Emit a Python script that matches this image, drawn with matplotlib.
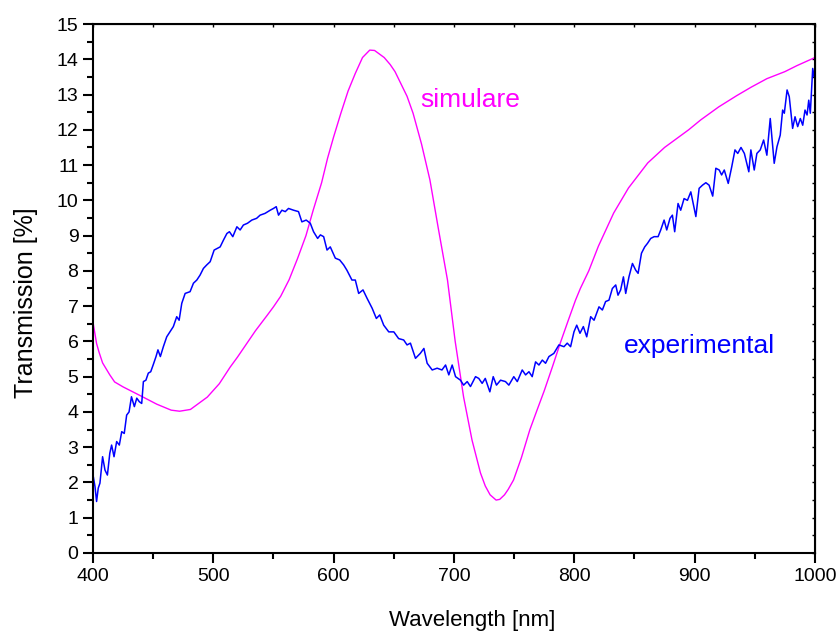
import numpy as np
import matplotlib
matplotlib.use('Agg')
import matplotlib.pyplot as plt
from matplotlib.ticker import MultipleLocator

# simulated transmission (smooth)
sim_wl = [400, 403, 405, 408, 414, 418, 425, 440, 453, 465, 472, 481, 495, 505,
          514, 520, 530, 535, 545, 550, 556, 563, 570, 577, 583, 590, 595, 600,
          606, 612, 618, 624, 630, 634, 638, 642, 647, 651, 656, 661, 666, 673,
          680, 687, 694.6, 701, 708, 715, 722, 726, 730, 735, 738, 742, 745,
          749.5, 756, 763, 769, 775, 782, 788.6, 795, 801, 805, 812, 820, 832.7,
          845, 861, 875, 895, 905, 920, 935, 947, 960, 975, 985, 1000]
sim_T = [6.55, 5.94, 5.7, 5.39, 5.05, 4.85, 4.71, 4.45, 4.22, 4.05, 4.02, 4.07,
         4.42, 4.8, 5.27, 5.55, 6.05, 6.3, 6.75, 6.98, 7.28, 7.75, 8.35, 9.0,
         9.72, 10.5, 11.2, 11.8, 12.47, 13.1, 13.6, 14.05, 14.26, 14.25, 14.15,
         14.05, 13.85, 13.65, 13.3, 12.95, 12.47, 11.6, 10.58, 9.2, 7.74, 6.0,
         4.42, 3.2, 2.27, 1.9, 1.65, 1.5, 1.52, 1.65, 1.8, 2.07, 2.7, 3.49, 4.05,
         4.6, 5.3, 5.98, 6.6, 7.17, 7.5, 8.0, 8.7, 9.64, 10.35, 11.06, 11.5, 12.0,
         12.28, 12.65, 12.97, 13.21, 13.45, 13.65, 13.82, 14.05]

exp_wl = [400, 400.3, 401.7, 403, 404.4, 405.8, 408, 410, 412, 414, 415.5, 417.5,
          419.7, 421.9, 423.9, 426, 428, 430, 432, 434.4, 436.4, 438.5, 440.5,
          441.9, 444, 446, 448, 450, 452.4, 454, 456, 458.5, 461.3, 464, 466.8,
          469.6, 471.6, 473.8, 476.6, 480.7, 483.5, 486.3, 489, 491.8, 494.6,
          497.4, 500.7, 505.7, 508.4, 511.3, 513.4, 516.2, 519.6, 522.3, 525,
          528.4, 532, 536, 538.9, 543, 547.3, 550, 552.3, 554.2, 557, 559.8,
          562.5, 566.7, 570.8, 573.6, 577.2, 580.6, 583.3, 586.7, 589, 591.7,
          594.5, 597.2, 601.4, 605, 608.3, 611, 615.2, 618, 620.8, 624.4, 627.8,
          632, 635.5, 638.3, 641.6, 645.8, 650, 654, 658.2, 661, 663.8, 668, 672,
          675, 677.7, 681.9, 686, 690, 693, 695.7, 698.5, 701.3, 705.4, 708, 711,
          713.7, 717.9, 720.6, 723.4, 726, 729.8, 732.6, 735.3, 738.7, 742.8,
          745.6, 749.7, 752.6, 756.7, 759.5, 762.3, 765, 767.8, 770.6, 773.4,
          776.1, 778.9, 783, 787.2, 791.4, 794.1, 796.9, 799.7, 802, 804.7, 807.5,
          810.3, 813.6, 816.4, 820.5, 823.3, 826, 828.8, 831.6, 834.4, 836.3,
          838.5, 840.8, 842.7, 845.4, 848.3, 851, 853, 855.8, 858.5, 860.8, 863.5,
          866.3, 869.6, 871.8, 874.6, 876.8, 879.5, 881.5, 883.4, 886.2, 888.4,
          891.2, 894, 896.8, 901, 903.7, 906.5, 909.3, 912, 915, 917.6, 920.4,
          922.4, 924.6, 927.9, 930.8, 933.5, 935.8, 938.5, 941.3, 945, 946.7,
          949.5, 951.7, 954.5, 957.3, 960, 962.8, 966.1, 968.4, 971.1, 973.1,
          974.5, 976.8, 978.6, 981.4, 983.4, 985.6, 987.8, 989.8, 991.7, 993.4,
          994.8, 996.1, 998.1, 999.4, 1000]
exp_T = [2.07, 2.16, 1.88, 1.46, 1.84, 1.98, 2.73, 2.35, 2.21, 2.83, 3.06, 2.73,
         3.16, 3.06, 3.44, 3.39, 3.91, 4.0, 4.43, 4.15, 4.39, 4.29, 4.24, 4.86,
         4.9, 5.1, 5.14, 5.33, 5.57, 5.76, 5.57, 5.85, 6.13, 6.27, 6.42, 6.7, 6.6,
         7.08, 7.36, 7.41, 7.65, 7.74, 7.88, 8.07, 8.17, 8.26, 8.59, 8.68, 8.87,
         9.06, 9.11, 8.97, 9.25, 9.16, 9.3, 9.35, 9.44, 9.49, 9.58, 9.63, 9.72,
         9.77, 9.82, 9.58, 9.72, 9.68, 9.77, 9.72, 9.68, 9.39, 9.44, 9.35, 9.11,
         8.92, 9.02, 8.97, 8.59, 8.68, 8.36, 8.31, 8.17, 8.02, 7.74, 7.74, 7.36,
         7.46, 7.22, 6.94, 6.65, 6.75, 6.46, 6.27, 6.27, 6.08, 6.04, 5.9, 5.95,
         5.52, 5.66, 5.8, 5.38, 5.19, 5.24, 5.19, 5.33, 5.05, 5.33, 5.0, 4.9,
         4.76, 4.86, 4.72, 5.0, 4.95, 4.81, 4.95, 4.57, 5.0, 4.76, 4.9, 4.86,
         4.76, 5.0, 4.86, 5.19, 5.05, 5.14, 5.0, 5.42, 5.33, 5.47, 5.38, 5.57,
         5.66, 5.9, 5.85, 5.95, 5.85, 6.27, 6.46, 6.23, 6.42, 6.13, 6.7, 6.6,
         6.98, 6.89, 7.13, 7.17, 7.5, 7.6, 7.31, 7.46, 7.83, 7.36, 7.83, 8.21,
         8.02, 7.93, 8.5, 8.68, 8.78, 8.92, 8.97, 8.97, 9.16, 9.44, 9.16, 9.49,
         9.58, 9.11, 9.91, 9.72, 10.05, 10.0, 10.24, 9.54, 10.34, 10.43, 10.5,
         10.43, 10.12, 10.91, 10.86, 10.72, 10.86, 10.48, 10.95, 11.43, 11.33,
         11.5, 11.33, 10.81, 11.43, 10.86, 11.33, 11.43, 11.71, 11.28, 12.32,
         11.05, 11.52, 11.85, 12.56, 12.47, 13.13, 12.94, 12.04, 12.37, 12.09,
         12.32, 12.13, 12.56, 12.42, 12.84, 12.47, 13.74, 13.5, 13.6]

plt.rcParams['font.family'] = ['Liberation Sans', 'DejaVu Sans']

fig = plt.figure(figsize=(8.39, 6.37), dpi=100)
ax = fig.add_axes([0.1108, 0.1319, 0.8606, 0.8304])

ax.plot(sim_wl, sim_T, color='#ff00ff', lw=1.0)
ax.plot(exp_wl, exp_T, color='#0000ff', lw=1.1)

ax.text(672, 12.84, 'simulare', color='#ff00ff', fontsize=19, va='center')
ax.text(841, 5.87, 'experimental', color='#0000ff', fontsize=19, va='center')

ax.set_xlim(400, 1000)
ax.set_ylim(0, 15)
ax.xaxis.set_major_locator(MultipleLocator(100))
ax.xaxis.set_minor_locator(MultipleLocator(50))
ax.yaxis.set_major_locator(MultipleLocator(1))
ax.yaxis.set_minor_locator(MultipleLocator(0.5))

ax.tick_params(which='both', direction='out', width=1.5, labelsize=14,
               top=False, right=False)
ax.tick_params(which='major', length=7)
ax.tick_params(which='minor', length=4)
for s in ax.spines.values():
    s.set_linewidth(1.5)

# small inward ticks on top and right edges
ax2 = ax.secondary_xaxis('top')
ax2.xaxis.set_major_locator(MultipleLocator(50))
ax2.tick_params(direction='in', length=2, width=1, labeltop=False)
ax3 = ax.secondary_yaxis('right')
ax3.yaxis.set_major_locator(MultipleLocator(0.5))
ax3.tick_params(direction='in', length=2, width=1, labelright=False)

ax.set_xlabel('Wavelength [nm]', fontsize=16)
ax.xaxis.set_label_coords(0.525, -0.107)
ax.set_ylabel('Transmission [%]', fontsize=18)
ax.yaxis.set_label_coords(-0.076, 0.473)

fig.savefig('out.png', dpi=100)
